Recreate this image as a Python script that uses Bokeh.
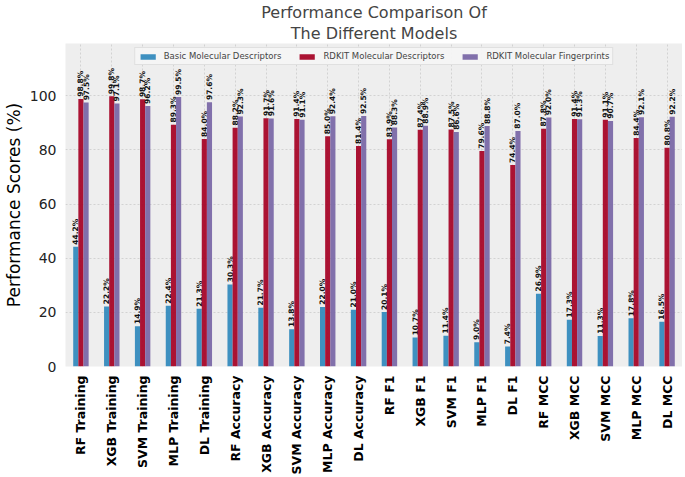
from bokeh.plotting import figure
from bokeh.models import Range1d, Title, Legend, LegendItem, ColumnDataSource, FixedTicker
from bokeh.core.properties import value
from bokeh.embed import file_html
from bokeh.resources import INLINE
import math

categories = ["RF Training", "XGB Training", "SVM Training", "MLP Training", "DL Training",
              "RF Accuracy", "XGB Accuracy", "SVM Accuracy", "MLP Accuracy", "DL Accuracy",
              "RF F1", "XGB F1", "SVM F1", "MLP F1", "DL F1",
              "RF MCC", "XGB MCC", "SVM MCC", "MLP MCC", "DL MCC"]
basic = [44.2, 22.2, 14.9, 22.4, 21.3, 30.3, 21.7, 13.8, 22.0, 21.0,
         20.1, 10.7, 11.4, 9.0, 7.4, 26.9, 17.3, 11.3, 17.8, 16.5]
rdkit_desc = [98.8, 99.8, 98.7, 89.3, 84.0, 88.2, 91.7, 91.4, 85.0, 81.4,
              83.9, 87.4, 87.5, 79.6, 74.4, 87.8, 91.4, 91.1, 84.4, 80.8]
rdkit_fp = [97.5, 97.1, 96.2, 99.5, 97.6, 92.3, 91.6, 91.1, 92.4, 92.5,
            88.3, 88.9, 86.6, 88.8, 87.0, 92.0, 91.3, 90.7, 92.1, 92.2]
series_names = ["Basic Molecular Descriptors", "RDKIT Molecular Descriptors", "RDKIT Molecular Fingerprints"]
colors = ["#348ABD", "#A60628", "#7A68A6"]

p = figure(frame_width=617, frame_height=323, output_backend="svg", toolbar_location=None,
           x_range=Range1d(-0.5, len(categories) - 0.5), y_range=Range1d(0, 119.3),
           min_border_left=40, min_border_right=0, min_border_bottom=0, min_border_top=0)
p.background_fill_color = "#eeeeee"
p.border_fill_color = "white"
p.outline_line_color = None

w = 1.0 / 6
legend_items = []
for i, (vals, name, col) in enumerate(zip([basic, rdkit_desc, rdkit_fp], series_names, colors)):
    xs = [j + (i - 1) * w for j in range(len(categories))]
    src = ColumnDataSource(dict(x=xs, top=vals, lab=["%.1f%%" % v for v in vals],
                                ty=[v + 0.8 for v in vals]))
    r = p.vbar(x="x", top="top", width=w, bottom=0, source=src, fill_color=col,
               line_color=None, fill_alpha=0.95)
    p.text(x="x", y="ty", text="lab", source=src, angle=math.pi / 2, text_align="left",
           text_baseline="middle", text_font_size="7.5px", text_font_style="bold",
           text_color="#111111", text_font=value("DejaVu Sans"))
    legend_items.append(LegendItem(label=name, renderers=[r]))

legend = Legend(items=legend_items, orientation="horizontal", location="top_center",
                label_text_font_size="8.5px", label_text_font="DejaVu Sans",
                glyph_width=19, glyph_height=7, label_height=8, padding=3, spacing=16,
                margin=4, border_line_color="#cccccc", background_fill_color="#f4f4f4",
                label_standoff=7)
p.add_layout(legend, "center")

p.xaxis.ticker = FixedTicker(ticks=list(range(len(categories))))
p.xaxis.major_label_overrides = {i: c for i, c in enumerate(categories)}
p.xaxis.major_label_orientation = math.pi / 2
p.xaxis.major_label_text_font_size = "12.5px"
p.xaxis.major_label_text_font_style = "bold"
p.xaxis.major_label_text_color = "black"
p.xaxis.major_label_text_font = "DejaVu Sans"
p.xaxis.major_label_standoff = 3
p.xaxis.axis_line_color = None
p.xaxis.major_tick_line_color = None
p.xaxis.minor_tick_line_color = None

p.yaxis.ticker = FixedTicker(ticks=[0, 20, 40, 60, 80, 100])
p.yaxis.major_label_text_font_size = "14px"
p.yaxis.major_label_text_color = "#222222"
p.yaxis.major_label_text_font = "DejaVu Sans"
p.yaxis.axis_label = "Performance Scores (%)"
p.yaxis.axis_label_text_font_size = "17px"
p.yaxis.axis_label_text_font_style = "normal"
p.yaxis.axis_label_text_color = "black"
p.yaxis.axis_label_text_font = "DejaVu Sans"
p.yaxis.axis_label_standoff = 3
p.yaxis.major_label_standoff = 3
p.yaxis.axis_line_color = None
p.yaxis.major_tick_line_color = None
p.yaxis.minor_tick_line_color = None

p.xgrid.grid_line_color = "#d2d2d2"
p.xgrid.grid_line_dash = "2 2"
p.ygrid.grid_line_color = "#d2d2d2"
p.ygrid.grid_line_dash = "2 2"

p.add_layout(Title(text="The Different Models", align="center", text_font_size="16px",
                   text_font_style="normal", text_font="DejaVu Sans", standoff=1,
                   text_line_height=1.0), "above")
p.add_layout(Title(text="Performance Comparison Of", align="center", text_font_size="16px",
                   text_font_style="normal", text_font="DejaVu Sans", standoff=0,
                   text_line_height=1.0), "above")

open("out.html", "w").write(file_html(p, INLINE))
